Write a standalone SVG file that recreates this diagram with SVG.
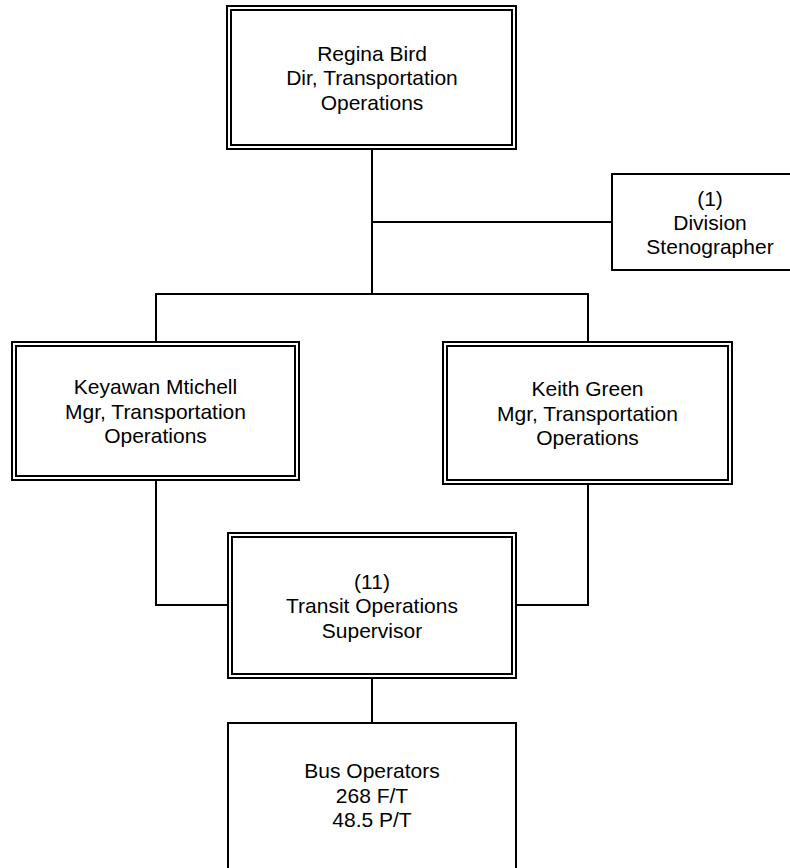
<svg xmlns="http://www.w3.org/2000/svg" width="790" height="868" viewBox="0 0 790 868">
<style>
rect{fill:none;stroke:#000;stroke-width:2}
.bg{fill:#fff;stroke:none}
.c line{stroke:#000;stroke-width:2;stroke-linecap:square}
text{font-family:"Liberation Sans",Arial,sans-serif;font-size:21px;fill:#000;text-anchor:middle}
</style>
<rect class="bg" x="0" y="0" width="790" height="868"/>
<g class="c" id="connectors">
<line x1="372" y1="149" x2="372" y2="294"/>
<line x1="372" y1="222" x2="612" y2="222"/>
<line x1="156" y1="294" x2="588" y2="294"/>
<line x1="156" y1="294" x2="156" y2="342"/>
<line x1="588" y1="294" x2="588" y2="342"/>
<line x1="156" y1="480" x2="156" y2="605"/>
<line x1="156" y1="605" x2="228" y2="605"/>
<line x1="588" y1="484" x2="588" y2="605"/>
<line x1="516" y1="605" x2="588" y2="605"/>
<line x1="372" y1="678" x2="372" y2="723"/>
</g>
<g id="regina">
<rect x="227" y="6" width="289" height="143"/>
<rect x="231" y="10" width="281" height="135"/>
<text x="372" y="60.5">Regina Bird</text>
<text x="372" y="85">Dir, Transportation</text>
<text x="372" y="109.5">Operations</text>
</g>
<g id="steno">
<rect x="612" y="174" width="196" height="96"/>
<text x="710" y="205.5">(1)</text>
<text x="710" y="229.5">Division</text>
<text x="710" y="253.5">Stenographer</text>
</g>
<g id="keyawan">
<rect x="12" y="342" width="287" height="138"/>
<rect x="16" y="346" width="279" height="130"/>
<text x="155.5" y="394">Keyawan Mtichell</text>
<text x="155.5" y="418.5">Mgr, Transportation</text>
<text x="155.5" y="443">Operations</text>
</g>
<g id="keith">
<rect x="443" y="342" width="289" height="142"/>
<rect x="447" y="346" width="281" height="134"/>
<text x="587.5" y="396">Keith Green</text>
<text x="587.5" y="420.5">Mgr, Transportation</text>
<text x="587.5" y="445">Operations</text>
</g>
<g id="supervisor">
<rect x="228" y="533" width="288" height="145"/>
<rect x="232" y="537" width="280" height="137"/>
<text x="372" y="588.5">(11)</text>
<text x="372" y="613">Transit Operations</text>
<text x="372" y="637.5">Supervisor</text>
</g>
<g id="bus">
<rect x="228" y="723" width="288" height="160"/>
<text x="372" y="778">Bus Operators</text>
<text x="372" y="802.5">268 F/T</text>
<text x="372" y="827">48.5 P/T</text>
</g>
</svg>
